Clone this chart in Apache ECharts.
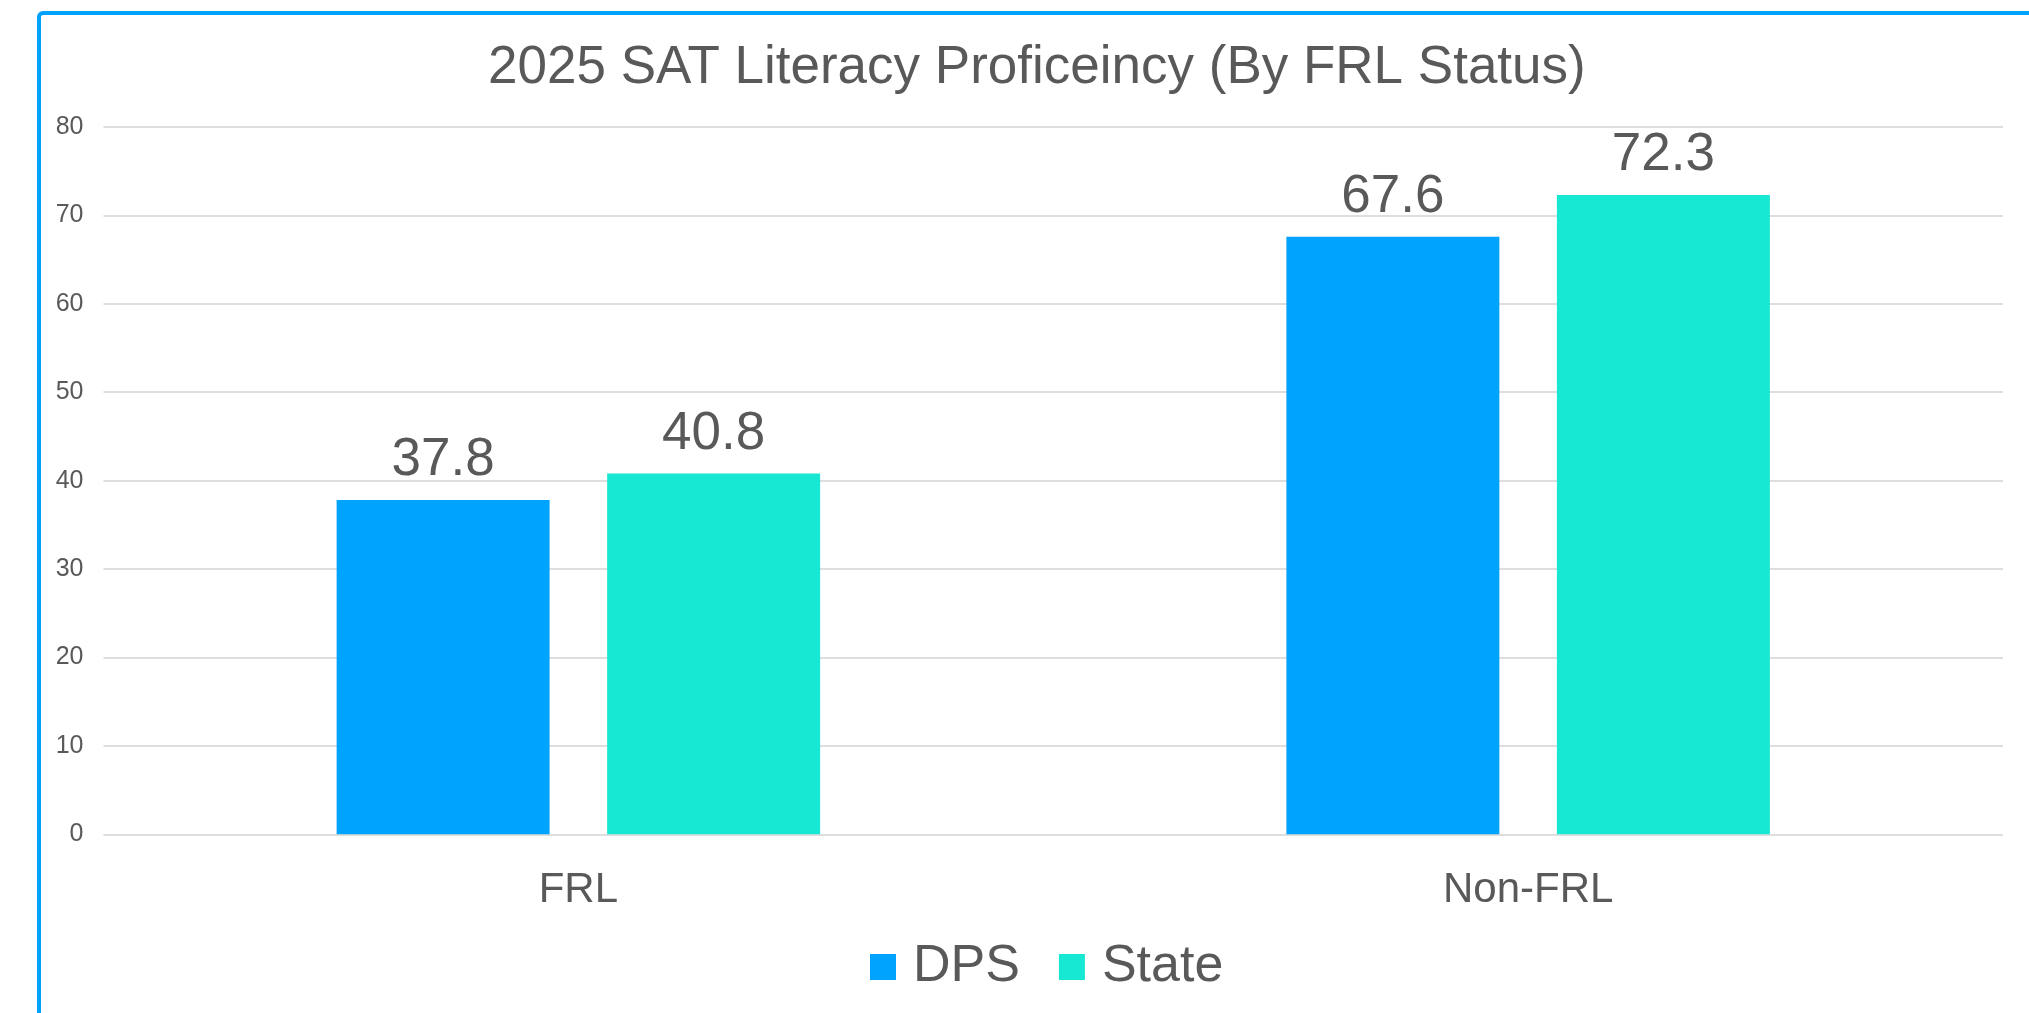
<!DOCTYPE html>
<html>
<head>
<meta charset="utf-8">
<script src="https://cdn.jsdelivr.net/npm/echarts@6/dist/echarts.min.js"></script>
<style>
  html, body { margin: 0; padding: 0; background: #ffffff; }
  #chart { width: 2029px; height: 1013px; }
</style>
</head>
<body>
<div id="chart"></div>
<script>
const titleText = '2025 SAT Literacy Proficeincy (By FRL Status)';
const categories = ['FRL', 'Non-FRL'];
const seriesNames = ['DPS', 'State'];
const dpsValues = [37.8, 67.6];
const stateValues = [40.8, 72.3];
const yTicks = [0, 10, 20, 30, 40, 50, 60, 70, 80];

const FONT = '"Liberation Sans", Arial, sans-serif';
const GREY = '#595959';

const chart = echarts.init(document.getElementById('chart'), null, { renderer: 'canvas' });

const labelCfg = {
  show: true,
  position: 'top',
  distance: 13,
  fontFamily: FONT,
  fontSize: 53,
  color: GREY,
  formatter: p => p.value.toFixed(1)
};

chart.setOption({
  backgroundColor: '#ffffff',
  animation: false,
  graphic: [{
    type: 'rect',
    shape: { x: 39, y: 13, width: 2100, height: 1100, r: 4 },
    style: { fill: 'none', stroke: '#00a2ff', lineWidth: 4 },
    silent: true,
    z: 100
  }],
  title: {
    text: titleText,
    left: 488,
    top: 42,
    padding: 0,
    textStyle: { fontFamily: FONT, fontSize: 53, fontWeight: 'normal', color: GREY }
  },
  legend: {
    data: seriesNames,
    left: 870,
    top: 941,
    padding: 0,
    itemWidth: 26,
    itemHeight: 26,
    itemGap: 39,
    icon: 'rect',
    textStyle: { fontFamily: FONT, fontSize: 52, color: GREY, padding: [0, 0, 0, 12] }
  },
  grid: { left: 103.5, right: 26, top: 127, bottom: 178.7, containLabel: false },
  xAxis: {
    type: 'category',
    data: categories,
    axisLine: { show: false },
    axisTick: { show: false },
    axisLabel: { fontFamily: FONT, fontSize: 42, color: GREY, margin: 35 }
  },
  yAxis: {
    type: 'value',
    min: yTicks[0],
    max: yTicks[yTicks.length - 1],
    interval: yTicks[1] - yTicks[0],
    axisLine: { show: false },
    axisTick: { show: false },
    axisLabel: { fontFamily: FONT, fontSize: 25, color: GREY, margin: 20 },
    splitLine: { lineStyle: { color: '#dedede', width: 2 } }
  },
  series: [
    {
      name: seriesNames[0],
      type: 'bar',
      data: dpsValues,
      barWidth: 213,
      barGap: '27%',
      itemStyle: { color: '#00a4ff' },
      label: labelCfg
    },
    {
      name: seriesNames[1],
      type: 'bar',
      data: stateValues,
      barWidth: 213,
      barGap: '27%',
      itemStyle: { color: '#17e8d3' },
      label: labelCfg
    }
  ]
});
</script>
</body>
</html>
